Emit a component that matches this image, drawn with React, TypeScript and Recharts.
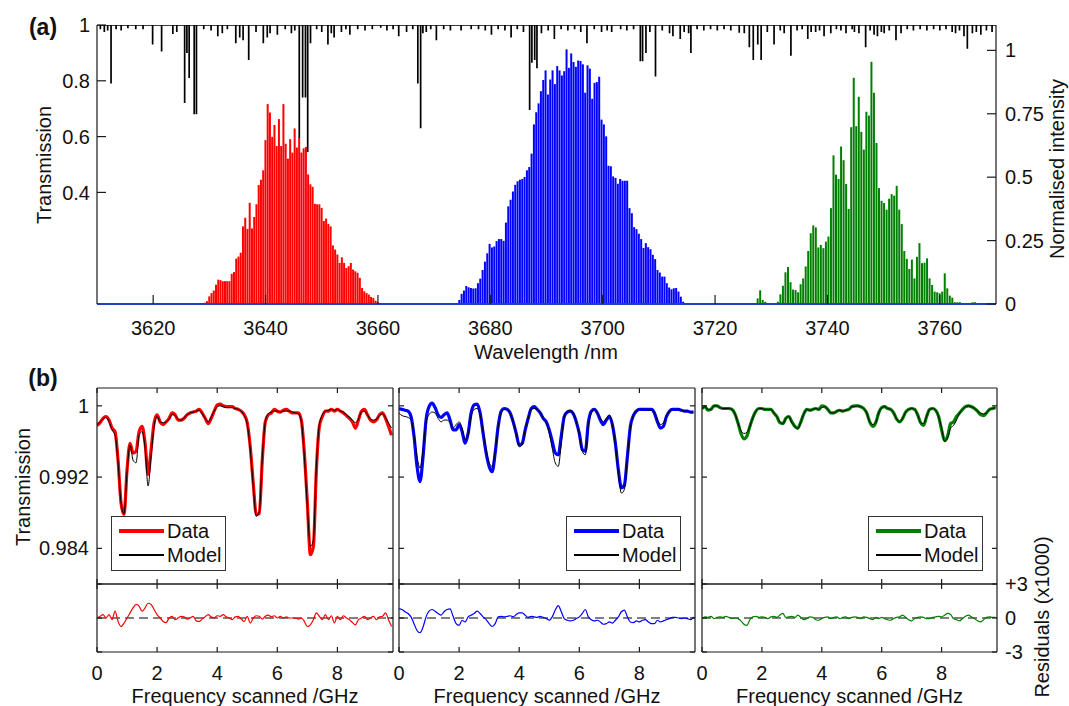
import React from "react";
import { ComposedChart, Bar, Line, XAxis, YAxis, ReferenceLine } from "recharts";

const FONT = "'Liberation Sans', Arial, Helvetica, sans-serif";
const AXIS = "#1a1a1a";

// ---- panel (a): comb spectra (normalised intensity, one value per comb line)
const RED_START = 3629.2;
const RED_STEP = 0.4;
const RED_INTENSITY = [
  0.005, 0.011, 0.03, 0.043, 0.053, 0.076, 0.096, 0.094, 0.09, 0.09,
  0.09, 0.09, 0.119, 0.126, 0.179, 0.187, 0.202, 0.306, 0.34, 0.296,
  0.399, 0.298, 0.343, 0.393, 0.469, 0.49, 0.527, 0.646, 0.788, 0.755,
  0.659, 0.706, 0.623, 0.729, 0.623, 0.788, 0.632, 0.573, 0.65, 0.597,
  0.692, 0.617, 0.656, 0.597, 0.614, 0.619, 0.511, 0.472, 0.462, 0.395,
  0.393, 0.393, 0.379, 0.327, 0.337, 0.316, 0.306, 0.231, 0.215, 0.195,
  0.162, 0.184, 0.162, 0.142, 0.149, 0.162, 0.136, 0.129, 0.123, 0.103,
  0.063, 0.05, 0.043, 0.037, 0.028, 0.024, 0.013, 0.008, 0.004,
];

const BLUE_START = 3674.5;
const BLUE_STEP = 0.415;
const BLUE_INTENSITY = [
  0.016, 0.04, 0.053, 0.071, 0.066, 0.063, 0.061, 0.062, 0.082, 0.1,
  0.134, 0.167, 0.2, 0.237, 0.223, 0.227, 0.248, 0.256, 0.256, 0.249,
  0.321, 0.385, 0.411, 0.444, 0.47, 0.484, 0.49, 0.493, 0.501, 0.527,
  0.54, 0.593, 0.708, 0.756, 0.791, 0.839, 0.883, 0.921, 0.826, 0.885,
  0.921, 0.867, 0.938, 0.921, 0.901, 0.918, 1.004, 0.931, 0.988, 0.954,
  0.935, 0.96, 0.958, 0.945, 0.833, 0.941, 0.928, 0.809, 0.872, 0.875,
  0.896, 0.727, 0.708, 0.661, 0.545, 0.543, 0.503, 0.497, 0.474, 0.493,
  0.486, 0.486, 0.486, 0.378, 0.358, 0.303, 0.295, 0.277, 0.256, 0.221,
  0.24, 0.224, 0.216, 0.194, 0.177, 0.134, 0.124, 0.108, 0.108, 0.082,
  0.065, 0.058, 0.062, 0.063, 0.049, 0.029, 0.009,
];

const GREEN_START = 3727.6;
const GREEN_STEP = 0.45;
const GREEN_INTENSITY = [
  0.022, 0.054, 0.016, 0.009, 0, 0, 0, 0.003, 0.009, 0.038,
  0.072, 0.125, 0.146, 0.086, 0.057, 0.055, 0.046, 0.078, 0.101, 0.148,
  0.209, 0.279, 0.31, 0.302, 0.223, 0.233, 0.22, 0.246, 0.266, 0.378,
  0.586, 0.51, 0.493, 0.621, 0.567, 0.473, 0.375, 0.697, 0.892, 0.701,
  0.817, 0.679, 0.609, 0.758, 0.743, 0.955, 0.833, 0.635, 0.457, 0.407,
  0.398, 0.372, 0.415, 0.433, 0.427, 0.466, 0.372, 0.315, 0.209, 0.178,
  0.138, 0.175, 0.101, 0.186, 0.24, 0.161, 0.163, 0.18, 0.101, 0.075,
  0.049, 0.046, 0.042, 0.049, 0.121, 0.062, 0.033, 0.025, 0.007, 0.007,
  0.007, 0.003, 0, 0, 0.003, 0.007, 0.007,
];

// absorption lines seen by the transmission trace: [wavelength nm, transmission]
const ABSORPTION_LINES: [number, number][] = [
  [3610.6, 0.985], [3611.3, 0.975], [3611.9, 0.98], [3612.5, 0.79], [3613.4, 0.985],
  [3614.3, 0.98], [3615.5, 0.988], [3616.9, 0.985], [3618.2, 0.985], [3619.9, 0.93],
  [3621.5, 0.905], [3623.5, 0.968], [3624.2, 0.975], [3625.6, 0.72], [3626.0, 0.9],
  [3626.4, 0.81], [3627.3, 0.68], [3627.7, 0.68], [3629.0, 0.985], [3630.3, 0.98],
  [3631.5, 0.96], [3632.3, 0.97], [3633.2, 0.985], [3634.7, 0.935], [3635.4, 0.955],
  [3636.0, 0.945], [3637.0, 0.875], [3638.3, 0.975], [3639.6, 0.935], [3640.3, 0.955],
  [3640.8, 0.97], [3642.1, 0.965], [3643.5, 0.985], [3644.6, 0.97], [3645.2, 0.98],
  [3646.0, 0.595], [3646.6, 0.74], [3647.1, 0.74], [3647.5, 0.545], [3648.0, 0.935],
  [3649.1, 0.985], [3650.0, 0.975], [3651.1, 0.93], [3651.7, 0.97], [3652.2, 0.955],
  [3653.5, 0.975], [3654.3, 0.985], [3655.0, 0.965], [3656.4, 0.985], [3657.7, 0.98],
  [3659.0, 0.985], [3660.5, 0.99], [3661.6, 0.98], [3662.7, 0.985], [3663.7, 0.96],
  [3665.1, 0.975], [3666.2, 0.985], [3667.1, 0.79], [3667.6, 0.63], [3668.0, 0.97],
  [3668.6, 0.975], [3669.4, 0.985], [3670.4, 0.945], [3671.7, 0.985], [3672.9, 0.98],
  [3674.8, 0.98], [3676.6, 0.985], [3677.9, 0.985], [3679.1, 0.98], [3680.2, 0.965],
  [3681.4, 0.985], [3682.6, 0.98], [3683.7, 0.955], [3684.8, 0.985], [3685.9, 0.975],
  [3687.0, 0.695], [3687.4, 0.865], [3687.9, 0.875], [3688.3, 0.845], [3689.1, 0.97],
  [3690.3, 0.98], [3691.4, 0.95], [3692.6, 0.985], [3693.8, 0.98], [3695.0, 0.985],
  [3696.1, 0.975], [3697.2, 0.935], [3698.5, 0.985], [3699.8, 0.975], [3700.8, 0.98],
  [3701.6, 0.975], [3703.2, 0.985], [3704.3, 0.98], [3705.5, 0.985], [3706.7, 0.87],
  [3707.1, 0.87], [3707.7, 0.9], [3708.4, 0.975], [3709.4, 0.815], [3710.6, 0.98],
  [3711.9, 0.97], [3712.5, 0.96], [3713.8, 0.95], [3714.5, 0.975], [3715.3, 0.97],
  [3715.7, 0.9], [3716.8, 0.985], [3718.0, 0.98], [3719.2, 0.985], [3720.4, 0.98],
  [3721.6, 0.985], [3722.8, 0.98], [3724.3, 0.972], [3725.2, 0.97], [3726.1, 0.92],
  [3726.8, 0.875], [3727.6, 0.93], [3728.2, 0.875], [3729.3, 0.975], [3730.5, 0.93],
  [3731.6, 0.98], [3732.3, 0.97], [3733.5, 0.89], [3734.6, 0.98], [3735.5, 0.985],
  [3736.5, 0.95], [3737.1, 0.975], [3737.9, 0.975], [3738.6, 0.98], [3739.4, 0.96],
  [3740.6, 0.97], [3741.6, 0.985], [3742.4, 0.98], [3743.3, 0.97], [3744.4, 0.985],
  [3744.8, 0.975], [3745.6, 0.97], [3746.8, 0.92], [3747.6, 0.98], [3748.3, 0.965],
  [3748.9, 0.96], [3749.6, 0.975], [3750.1, 0.97], [3751.0, 0.98], [3752.2, 0.945],
  [3753.1, 0.97], [3754.2, 0.985], [3755.3, 0.98], [3756.5, 0.985], [3757.7, 0.98],
  [3758.9, 0.985], [3760.0, 0.98], [3761.1, 0.985], [3762.2, 0.975], [3762.8, 0.97],
  [3763.5, 0.98], [3764.3, 0.96], [3764.9, 0.915], [3765.8, 0.97], [3766.5, 0.975],
  [3767.3, 0.965], [3768.3, 0.98], [3769.3, 0.975],
];

const WAVELENGTH_TICKS = [3620, 3640, 3660, 3680, 3700, 3720, 3740, 3760];
const TRANSMISSION_TICKS = [0.4, 0.6, 0.8, 1];
const INTENSITY_TICKS = [0, 0.25, 0.5, 0.75, 1];

// ---- panel (b): 0.1 GHz scan grid, transmission data / model, residuals (x1000)
const FREQ = Array.from({ length: 99 }, (_, i) => i / 10);
const FREQ_TICKS = [0, 2, 4, 6, 8];
const SCAN_TICKS = [0.984, 0.992, 1];
const RESID_TICKS = [-3, 0, 3];

const RED_DATA = [
  0.9978, 0.9981, 0.9986, 0.9988, 0.9984, 0.9975, 0.9971, 0.9939, 0.9891, 0.9878,
  0.9928, 0.9958, 0.9947, 0.9949, 0.9971, 0.9977, 0.9958, 0.9923, 0.9951, 0.9981,
  0.999, 0.9982, 0.9979, 0.9982, 0.9986, 0.9992, 0.999, 0.9984, 0.9984, 0.9986,
  0.999, 0.9992, 0.9993, 0.9994, 0.9996, 0.9992, 0.9986, 0.998, 0.9986, 0.9994,
  1.0001, 1.0002, 1.0, 0.9999, 0.9999, 0.9999, 0.9997, 0.9996, 0.9994, 0.999,
  0.9981, 0.9954, 0.9913, 0.9878, 0.9879, 0.9939, 0.9982, 0.999, 0.9992, 0.9996,
  0.9994, 0.9993, 0.9995, 0.9996, 0.9994, 0.9992, 0.9992, 0.9992, 0.9984, 0.9947,
  0.9891, 0.9833, 0.9842, 0.9928, 0.9977, 0.9988, 0.9994, 0.9994, 0.9996, 0.9994,
  0.9996, 0.9994, 0.9992, 0.9989, 0.9986, 0.9982, 0.9975, 0.9984, 0.9994, 0.9996,
  0.999, 0.9984, 0.9982, 0.9984, 0.999, 0.9992, 0.9986, 0.9977, 0.9967,
];
const RED_MODEL = [
  0.9979, 0.9982, 0.9985, 0.9987, 0.9982, 0.9973, 0.9967, 0.9937, 0.9891, 0.9879,
  0.9926, 0.9956, 0.9939, 0.9936, 0.9967, 0.9971, 0.9952, 0.991, 0.9943, 0.9977,
  0.9988, 0.9982, 0.9981, 0.9982, 0.9985, 0.999, 0.9989, 0.9985, 0.9984, 0.9987,
  0.999, 0.9992, 0.9993, 0.9994, 0.9995, 0.9991, 0.9986, 0.9982, 0.9987, 0.9994,
  0.9999, 1.0, 0.9999, 0.9998, 0.9998, 0.9998, 0.9997, 0.9996, 0.9994, 0.9989,
  0.9979, 0.9951, 0.9909, 0.9876, 0.9881, 0.9941, 0.9982, 0.9991, 0.9993, 0.9994,
  0.9994, 0.9993, 0.9994, 0.9994, 0.9994, 0.9993, 0.9992, 0.9991, 0.9982, 0.9943,
  0.9887, 0.9842, 0.9849, 0.9932, 0.9979, 0.999, 0.9994, 0.9995, 0.9996, 0.9995,
  0.9996, 0.9994, 0.9993, 0.999, 0.9987, 0.9984, 0.9981, 0.9985, 0.9993, 0.9994,
  0.999, 0.9985, 0.9984, 0.9985, 0.9989, 0.9991, 0.9987, 0.9981, 0.9975,
];
const RED_RESID = [
  0, 0.15, 0.3, 0, 0.3, -0.15, 0.6, -0.3, -0.75, -0.45,
  0, 0.45, 0.9, 1.2, 1.05, 0.6, 0.9, 1.3, 1.2, 0.75,
  0.3, 0, -0.3, -0.4, 0, 0.15, -0.15, 0, 0.15, 0.1,
  -0.1, 0, 0.15, -0.25, -0.3, -0.1, 0.1, 0.3, 0.1, 0,
  0.2, 0.15, 0.3, 0.1, 0, -0.15, 0.1, 0.15, -0.1, -0.3,
  0.15, -0.45, 0, 0.2, 0.15, -0.1, 0.15, 0.25, 0.1, 0.2,
  0, 0.15, 0, 0.1, 0, 0, 0, -0.1, 0, -0.3,
  -0.75, -0.6, -0.15, 0.45, 0.15, -0.15, 0.3, -0.15, 0.2, -0.45,
  0.15, -0.15, 0.2, 0, -0.15, -0.4, -0.6, -0.15, 0, 0.15,
  -0.15, 0, 0.15, -0.15, 0.1, 0.15, 0.45, -0.15, -0.75,
];

const BLUE_DATA = [
  0.9997, 0.9996, 0.9995, 0.9994, 0.9988, 0.9966, 0.9932, 0.9915, 0.9943, 0.9984,
  0.9999, 1.0003, 0.9998, 0.999, 0.9987, 0.999, 0.9992, 0.9984, 0.9973, 0.9973,
  0.9979, 0.9971, 0.9958, 0.9969, 0.9992, 1.0001, 1.0002, 0.9992, 0.9969, 0.9947,
  0.9932, 0.9926, 0.9947, 0.9977, 0.9994, 0.9997, 0.9996, 0.9992, 0.9982, 0.9969,
  0.9956, 0.9958, 0.9973, 0.9986, 0.9997, 0.9999, 0.9996, 0.9992, 0.9986, 0.9982,
  0.9973, 0.996, 0.9947, 0.9945, 0.9966, 0.9988, 0.9993, 0.9994, 0.9991, 0.9982,
  0.9969, 0.9951, 0.9949, 0.9981, 0.9994, 0.9996, 0.9992, 0.9984, 0.9979, 0.9984,
  0.9988, 0.9979, 0.9958, 0.9928, 0.9908, 0.9911, 0.9943, 0.9977, 0.9989, 0.9994,
  0.9996, 0.9996, 0.9996, 0.9996, 0.9996, 0.9992, 0.9982, 0.9975, 0.9977, 0.9988,
  0.9994, 0.9996, 0.9996, 0.9996, 0.9995, 0.9994, 0.9994, 0.9993, 0.9993,
];
const BLUE_MODEL = [
  0.9992, 0.9989, 0.9988, 0.9987, 0.9984, 0.9967, 0.9943, 0.993, 0.9951, 0.9981,
  0.999, 0.9993, 0.9992, 0.9986, 0.9982, 0.9984, 0.9984, 0.9981, 0.9975, 0.9979,
  0.9982, 0.9975, 0.9962, 0.9967, 0.9988, 0.9996, 0.9997, 0.999, 0.9971, 0.9951,
  0.9936, 0.9932, 0.9949, 0.9975, 0.9992, 0.9996, 0.9996, 0.9991, 0.9982, 0.9969,
  0.9954, 0.9956, 0.9973, 0.9986, 0.9996, 0.9997, 0.9996, 0.9992, 0.9986, 0.9981,
  0.9969, 0.9952, 0.9936, 0.9932, 0.9958, 0.9988, 0.9994, 0.9995, 0.9992, 0.9982,
  0.9967, 0.9949, 0.9945, 0.9977, 0.9992, 0.9996, 0.9992, 0.9986, 0.9982, 0.9986,
  0.999, 0.9979, 0.9956, 0.9924, 0.9902, 0.9906, 0.9941, 0.9975, 0.999, 0.9994,
  0.9996, 0.9996, 0.9996, 0.9995, 0.9995, 0.9992, 0.9984, 0.9979, 0.9981, 0.9989,
  0.9994, 0.9996, 0.9996, 0.9996, 0.9995, 0.9994, 0.9994, 0.9993, 0.9993,
];
const BLUE_RESID = [
  0.8, 0.75, 0.55, 0.4, 0.1, -0.5, -1.1, -1.3, -0.8, 0.1,
  0.6, 0.75, 0.6, 0.4, 0.25, 0.55, 0.75, 0.8, 0.15, -0.5,
  -0.65, -0.2, -0.35, 0.1, 0.25, 0.4, 0.6, 0.4, 0.1, -0.15,
  -0.5, -0.75, -0.5, 0.1, 0.15, 0.1, 0.15, 0.2, 0.1, 0.3,
  0.45, 0.45, 0.25, 0.05, 0.15, 0.1, 0.05, 0.15, 0.05, -0.05,
  -0.2, 0.1, 0.7, 1.1, 0.55, -0.05, -0.2, -0.25, -0.2, -0.05,
  0.1, 0.4, 0.75, 0.1, -0.15, -0.25, -0.2, -0.35, -0.55, -0.5,
  -0.35, -0.45, -0.2, 0.1, 0.55, 0.7, 0.1, -0.35, -0.4, -0.25,
  -0.35, -0.2, -0.15, -0.35, -0.5, -0.5, -0.2, -0.35, -0.25, -0.15,
  -0.05, 0.05, 0.05, 0, -0.05, 0, -0.05, -0.15, 0.1,
];

const GREEN_DATA = [
  0.9997, 0.9999, 0.9995, 0.9996, 1.0, 1.0, 0.9998, 0.9997, 0.9997, 0.9997,
  0.9996, 0.9991, 0.9981, 0.9969, 0.9963, 0.9966, 0.9977, 0.9987, 0.9994, 0.9997,
  0.9997, 0.9996, 0.9996, 0.9996, 0.9992, 0.9988, 0.9981, 0.998, 0.9986, 0.9988,
  0.9982, 0.9977, 0.9975, 0.9982, 0.9991, 0.9996, 0.9995, 0.9996, 0.9997, 0.9996,
  1.0, 0.9999, 0.9996, 0.9992, 0.9992, 0.9994, 0.9995, 0.9994, 0.9995, 0.9996,
  0.9999, 1.0, 1.0, 0.9999, 0.9997, 0.9992, 0.9982, 0.9977, 0.9981, 0.9992,
  0.9998, 0.9999, 0.9997, 0.9996, 0.9992, 0.9985, 0.9982, 0.9986, 0.9993, 0.9996,
  0.9997, 0.9996, 0.999, 0.9981, 0.9978, 0.9988, 0.9996, 0.9997, 0.9995, 0.9988,
  0.9973, 0.9961, 0.9966, 0.998, 0.9982, 0.9988, 0.9992, 0.9996, 0.9999, 1.0,
  0.9999, 0.9997, 0.9994, 0.999, 0.9989, 0.9992, 0.9996, 0.9997, 0.9998,
];
const GREEN_MODEL = [
  0.9996, 0.9999, 0.9996, 0.9996, 1.0, 1.0, 0.9998, 0.9997, 0.9997, 0.9997,
  0.9996, 0.9991, 0.9981, 0.9972, 0.9969, 0.997, 0.9977, 0.9987, 0.9994, 0.9997,
  0.9997, 0.9996, 0.9996, 0.9996, 0.9992, 0.9988, 0.9982, 0.998, 0.9986, 0.9988,
  0.9981, 0.9977, 0.9974, 0.9982, 0.9991, 0.9996, 0.9995, 0.9996, 0.9997, 0.9996,
  0.9998, 0.9999, 0.9996, 0.9992, 0.9992, 0.9994, 0.9995, 0.9994, 0.9995, 0.9996,
  0.9999, 0.9999, 1.0, 0.9999, 0.9997, 0.9992, 0.9982, 0.9979, 0.9981, 0.9992,
  0.9998, 0.9999, 0.9997, 0.9996, 0.9992, 0.9985, 0.9982, 0.9986, 0.9993, 0.9996,
  0.9997, 0.9996, 0.999, 0.9981, 0.998, 0.9988, 0.9996, 0.9997, 0.9995, 0.9988,
  0.9975, 0.996, 0.9964, 0.9975, 0.9978, 0.9984, 0.9992, 0.9996, 0.9999, 1.0,
  0.9999, 0.9997, 0.9994, 0.9992, 0.9991, 0.9992, 0.9996, 0.9997, 0.9998,
];
const GREEN_RESID = [
  -0.05, 0.1, 0.05, 0.15, -0.05, 0.05, 0.1, 0.05, 0.15, 0.05,
  -0.05, 0, -0.05, -0.25, -0.55, -0.65, -0.15, 0.1, 0.15, 0.05,
  0.1, 0.05, -0.05, 0.1, 0.15, 0.05, 0.25, 0.4, 0.05, 0.1,
  0.15, 0.05, 0.25, 0.05, -0.15, -0.05, 0.1, 0.05, -0.15, -0.2,
  -0.05, 0.05, 0.1, -0.05, 0.05, 0.1, -0.05, 0.05, 0.1, -0.05,
  0.05, 0.1, 0.05, -0.05, 0.1, 0.05, -0.05, -0.15, 0.05, -0.05,
  0.05, -0.05, -0.15, -0.2, -0.05, 0.05, 0.1, 0.25, 0.05, -0.15,
  -0.25, -0.05, 0.05, 0.1, 0.05, -0.05, -0.05, 0.05, 0.1, 0.15,
  0.1, 0.25, 0.4, 0.3, -0.05, -0.15, -0.25, -0.05, 0.15, 0.25,
  0.1, -0.05, -0.25, -0.35, -0.15, 0.05, 0.1, 0.05, 0.05,
];

// ---- tables built from the arrays above
const combRows = (start: number, step: number, values: number[], key: string) =>
  values.map((v, i) => ({ wl: +(start + i * step).toFixed(3), [key]: v }));

const COMB_DATA = [
  ...combRows(RED_START, RED_STEP, RED_INTENSITY, "red"),
  ...combRows(BLUE_START, BLUE_STEP, BLUE_INTENSITY, "blue"),
  ...combRows(GREEN_START, GREEN_STEP, GREEN_INTENSITY, "green"),
];

const TRANSMISSION_DATA: { wl: number; t: number }[] = [{ wl: 3610, t: 1 }];
[...ABSORPTION_LINES]
  .sort((a, b) => a[0] - b[0])
  .forEach(([wl, t]) => {
    TRANSMISSION_DATA.push({ wl, t: 1 }, { wl, t }, { wl, t: 1 });
  });
TRANSMISSION_DATA.push({ wl: 3770, t: 1 });

const FS = 20;
const tickText = { fill: "#111", fontSize: FS, fontFamily: FONT };
const blank = () => "";
const line = { stroke: AXIS, strokeWidth: 1.2 };

function Label({ x, y, children, rotate = false, bold = false, size = FS }: any) {
  return (
    <div
      style={{
        position: "absolute",
        left: x,
        top: y,
        transform: `translate(-50%, -50%)${rotate ? " rotate(-90deg)" : ""}`,
        whiteSpace: "nowrap",
        fontFamily: FONT,
        fontSize: size,
        fontWeight: bold ? 700 : 400,
        color: "#111",
      }}
    >
      {children}
    </div>
  );
}

function ScanLegend({ left, color }: { left: number; color: string }) {
  const row = (label: string, c: string, w: number, top: number) => (
    <div style={{ position: "absolute", left: 0, top, height: 24, width: "100%" }}>
      <div style={{ position: "absolute", left: 7, top: 12 - w / 2, width: 45, height: w, background: c }} />
      <div style={{ position: "absolute", left: 55, top: 0, lineHeight: "24px" }}>{label}</div>
    </div>
  );
  return (
    <div
      style={{
        position: "absolute",
        left,
        top: 516,
        width: 115,
        height: 55,
        boxSizing: "border-box",
        border: "1px solid #333",
        background: "#fff",
        fontFamily: FONT,
        fontSize: FS,
        color: "#111",
      }}
    >
      {row("Data", color, 3.5, 2)}
      {row("Model", "#000", 1.2, 26)}
    </div>
  );
}

const SIDE = 70;

function ScanColumn({ left, right, color, data, model, resid, first, last, legendLeft }: any) {
  const rows = FREQ.map((f, i) => ({ f, data: data[i], model: model[i], resid: resid[i] }));
  const width = right - left + SIDE * 2;
  const xProps = {
    dataKey: "f",
    type: "number" as const,
    domain: [0, 9.85],
    ticks: FREQ_TICKS,
    interval: 0,
    allowDataOverflow: true,
    tickSize: -5,
    axisLine: line,
    tickLine: line,
  };
  const yProps = { interval: 0, allowDataOverflow: true, width: SIDE, tickSize: -5, axisLine: line, tickLine: line };
  return (
    <>
      <div style={{ position: "absolute", left: left - SIDE, top: 378 }}>
        <ComposedChart width={width} height={216} data={rows} margin={{ top: 0, right: 0, bottom: 0, left: 0 }}>
          <XAxis {...xProps} height={10} tickFormatter={blank} />
          <XAxis {...xProps} xAxisId="top" orientation="top" height={10} tickFormatter={blank} />
          <YAxis
            {...yProps}
            domain={[0.98, 1.002]}
            ticks={SCAN_TICKS}
            tickMargin={13}
            tick={tickText}
            tickFormatter={first ? (v: number) => String(v) : blank}
          />
          <YAxis {...yProps} yAxisId="r" orientation="right" domain={[0.98, 1.002]} ticks={SCAN_TICKS} tickFormatter={blank} />
          <Line dataKey="data" type="monotone" stroke={color} strokeWidth={3.2} dot={false} isAnimationActive={false} />
          <Line
            dataKey="model"
            xAxisId="top"
            yAxisId="r"
            type="monotone"
            stroke="#000"
            strokeWidth={1}
            dot={false}
            isAnimationActive={false}
          />
        </ComposedChart>
      </div>
      <div style={{ position: "absolute", left: left - SIDE, top: 574 }}>
        <ComposedChart width={width} height={128} data={rows} margin={{ top: 0, right: 0, bottom: 0, left: 0 }}>
          <XAxis {...xProps} height={50} tickMargin={19} tick={tickText} />
          <XAxis {...xProps} xAxisId="top" orientation="top" height={10} tickFormatter={blank} />
          <YAxis {...yProps} domain={[-3, 3]} ticks={RESID_TICKS} tickFormatter={blank} />
          <YAxis
            {...yProps}
            yAxisId="r"
            orientation="right"
            domain={[-3, 3]}
            ticks={RESID_TICKS}
            tickMargin={13}
            tick={tickText}
            tickFormatter={last ? (v: number) => (v > 0 ? `+${v}` : String(v)) : blank}
          />
          <ReferenceLine y={0} stroke="#000" strokeDasharray="9 5" strokeWidth={1} />
          <Line
            dataKey="resid"
            xAxisId="top"
            type="monotone"
            stroke="none"
            dot={false}
            isAnimationActive={false}
          />
          <Line
            dataKey="resid"
            yAxisId="r"
            type="monotone"
            stroke={color}
            strokeWidth={1.2}
            dot={false}
            isAnimationActive={false}
          />
        </ComposedChart>
      </div>
      <ScanLegend left={legendLeft} color={color} />
      <Label x={(left + right) / 2} y={696}>Frequency scanned /GHz</Label>
    </>
  );
}

export default function App() {
  return (
    <div
      style={{
        position: "absolute",
        left: 0,
        top: 0,
        width: 1069,
        height: 706,
        background: "#fff",
        overflow: "hidden",
        fontFamily: FONT,
      }}
    >
      {/* (a) comb spectra on the right-hand axis */}
      <div style={{ position: "absolute", left: 0, top: 0 }}>
        <ComposedChart width={1069} height={370} data={COMB_DATA} margin={{ top: 25, right: 23, bottom: 36, left: 97 }}>
          <XAxis
            dataKey="wl"
            type="number"
            domain={[3610, 3770]}
            ticks={WAVELENGTH_TICKS}
            interval={0}
            allowDataOverflow
            height={30}
            tickSize={-9}
            tickMargin={26}
            axisLine={{ stroke: "#1d3fc8", strokeWidth: 2.2 }}
            tickLine={{ stroke: AXIS, strokeWidth: 1.2 }}
            tick={tickText}
          />
          <YAxis
            yAxisId="i"
            orientation="right"
            domain={[0, 1.1]}
            ticks={INTENSITY_TICKS}
            interval={0}
            width={50}
            tickSize={-9}
            tickMargin={18}
            axisLine={line}
            tickLine={line}
            tick={tickText}
          />
          <Bar yAxisId="i" dataKey="red" stackId="comb" fill="#ff0000" barSize={2} isAnimationActive={false} />
          <Bar yAxisId="i" dataKey="blue" stackId="comb" fill="#0000ff" barSize={2} isAnimationActive={false} />
          <Bar yAxisId="i" dataKey="green" stackId="comb" fill="#008000" barSize={2} isAnimationActive={false} />
          <ReferenceLine
            yAxisId="i"
            segment={[{ x: 3623, y: 0 }, { x: 3629, y: 0 }]}
            stroke="#b4183c"
            strokeWidth={2.2}
          />
        </ComposedChart>
      </div>
      {/* (a) transmission trace on the left-hand axis, drawn over the bars */}
      <div style={{ position: "absolute", left: 0, top: 0 }}>
        <ComposedChart width={1069} height={370} data={TRANSMISSION_DATA} margin={{ top: 25, right: 73, bottom: 66, left: 47 }}>
          <XAxis dataKey="wl" type="number" domain={[3610, 3770]} allowDataOverflow hide />
          <YAxis
            domain={[0, 1]}
            ticks={TRANSMISSION_TICKS}
            interval={0}
            allowDataOverflow
            width={50}
            tickSize={-9}
            tickMargin={16}
            axisLine={line}
            tickLine={line}
            tick={tickText}
          />
          <Line dataKey="t" type="linear" stroke="#000" strokeWidth={1.7} dot={false} isAnimationActive={false} />
        </ComposedChart>
      </div>

      <Label x={43} y={27} bold size={23}>(a)</Label>
      <Label x={44} y={165} rotate>Transmission</Label>
      <Label x={1057} y={169} rotate>Normalised intensity</Label>
      <Label x={546} y={352}>Wavelength /nm</Label>

      {/* (b) scans */}
      <Label x={43} y={378} bold size={23}>(b)</Label>
      <Label x={23} y={487} rotate>Transmission</Label>
      <Label x={1042} y={617} rotate>Residuals (x1000)</Label>

      <ScanColumn left={97} right={393} color="#ff0000" data={RED_DATA} model={RED_MODEL} resid={RED_RESID} first legendLeft={111} />
      <ScanColumn left={399} right={695} color="#0000ff" data={BLUE_DATA} model={BLUE_MODEL} resid={BLUE_RESID} legendLeft={566} />
      <ScanColumn left={702} right={997} color="#008000" data={GREEN_DATA} model={GREEN_MODEL} resid={GREEN_RESID} last legendLeft={868} />
    </div>
  );
}
